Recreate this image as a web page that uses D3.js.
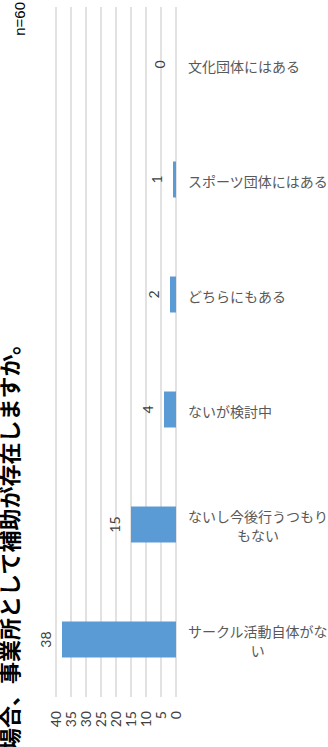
<!DOCTYPE html>
<html>
<head>
<meta charset="utf-8">
<script src="https://cdn.jsdelivr.net/npm/d3@7"></script>
<style>
  html, body { margin: 0; padding: 0; background: #ffffff; overflow: hidden; }
  svg { display: block; }
</style>
</head>
<body>
<div id="chart"></div>
<script>
// ---- data ----
const titleText = "場合、事業所として補助が存在しますか。";
const sampleNote = "n=60";
const categories = [
  "サークル活動自体がない",
  "ないし今後行うつもりもない",
  "ないが検討中",
  "どちらにもある",
  "スポーツ団体にはある",
  "文化団体にはある"
];
const values = [38, 15, 4, 2, 1, 0];
const tickValues = [0, 5, 10, 15, 20, 25, 30, 35, 40];

// ---- layout ----
const W = 328, H = 747;
const plotTop = 7, plotBottom = 697;
const xZero = 176, xMax = 56;
const labelLeft = 188;
const labelMaxW = 140.5;

const svg = d3.select("#chart").append("svg")
  .attr("width", W).attr("height", H);

const x = d3.scaleLinear().domain([0, 40]).range([xZero, xMax]);
const y = d3.scaleBand().domain(categories)
  .range([plotBottom, plotTop])
  .paddingInner(0.687).paddingOuter(0.3435);

// gridlines
svg.append("g").selectAll("line").data(tickValues).join("line")
  .attr("x1", d => x(d)).attr("x2", d => x(d))
  .attr("y1", plotTop).attr("y2", plotBottom)
  .attr("stroke", "#d9d9d9").attr("stroke-width", 1.5);

// tick labels (rotated)
svg.append("g").selectAll("text").data(tickValues).join("text")
  .attr("transform", d => `translate(${x(d) + 5},711) rotate(-90)`)
  .attr("text-anchor", "end")
  .attr("font-family", "Lato, 'Liberation Sans', sans-serif")
  .attr("font-size", 14)
  .attr("fill", "#404040")
  .text(d => d);

// bars
svg.append("g").selectAll("rect").data(categories).join("rect")
  .attr("x", (d, i) => x(values[i]))
  .attr("y", d => y(d))
  .attr("width", (d, i) => x(0) - x(values[i]))
  .attr("height", y.bandwidth())
  .attr("fill", "#5b9bd5");

// value labels
svg.append("g").selectAll("text").data(categories).join("text")
  .attr("transform", (d, i) => `translate(${x(values[i]) - 11.5},${y(d) + y.bandwidth() / 2}) rotate(-90)`)
  .attr("text-anchor", "middle")
  .attr("font-family", "Lato, 'Liberation Sans', sans-serif")
  .attr("font-size", 14)
  .attr("fill", "#404040")
  .text((d, i) => values[i]);

// category labels (wrapped)
const catG = svg.append("g");
categories.forEach((c, i) => {
  const cy = y(c) + y.bandwidth() / 2;
  const meas = catG.append("text")
    .attr("font-family", "'Noto Sans CJK JP', sans-serif")
    .attr("font-size", 14);
  const chars = Array.from(c);
  const lines = [];
  let cur = "";
  chars.forEach(ch => {
    meas.text(cur + ch);
    if (meas.node().getComputedTextLength() > labelMaxW && cur.length) {
      lines.push(cur); cur = ch;
    } else { cur += ch; }
  });
  if (cur) lines.push(cur);
  const widths = lines.map(l => { meas.text(l); return meas.node().getComputedTextLength(); });
  meas.remove();
  const blockW = d3.max(widths);
  const lh = 19;
  lines.forEach((l, j) => {
    catG.append("text")
      .attr("x", labelLeft + blockW / 2)
      .attr("y", cy + (j - (lines.length - 1) / 2) * lh + 1)
      .attr("text-anchor", "middle")
      .attr("dominant-baseline", "central")
      .attr("font-family", "'Noto Sans CJK JP', sans-serif")
      .attr("font-size", 14)
      .attr("fill", "#595959")
      .text(l);
  });
});

// title (rotated, partially clipped at left edge as in the reference)
svg.append("text")
  .attr("transform", "translate(18,333) rotate(-90)")
  .attr("text-anchor", "end")
  .attr("font-family", "'Noto Sans CJK JP', sans-serif")
  .attr("font-weight", "bold")
  .attr("font-size", 22)
  .attr("fill", "#000000")
  .text(titleText);

// sample size note
svg.append("text")
  .attr("transform", "translate(25,2) rotate(-90)")
  .attr("text-anchor", "end")
  .attr("font-family", "'Liberation Sans', Arial, sans-serif")
  .attr("font-size", 15)
  .attr("fill", "#000000")
  .text(sampleNote);
</script>
</body>
</html>
